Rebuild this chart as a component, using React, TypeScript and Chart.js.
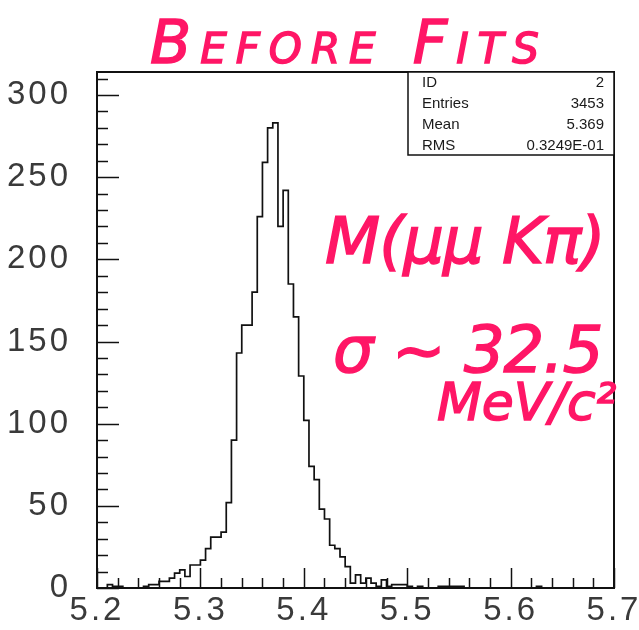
import { useEffect, useRef } from "react";
import { Chart, registerables } from "chart.js";

Chart.register(...registerables);

// M(μμKπ) mass histogram: 100 bins of 5 MeV between 5.2 and 5.7 GeV
const binLow = 5.2;
const binWidth = 0.005;
const counts = [
  0, 0, 2, 1, 1, 0, 0, 0, 0, 1,
  2, 2, 4, 4, 6, 9, 11, 7, 14, 14,
  17, 24, 31, 31, 34, 52, 90, 143, 160, 160,
  180, 226, 259, 280, 283, 220, 242, 185, 165, 129,
  102, 74, 66, 48, 42, 26, 24, 19, 13, 3,
  8, 3, 6, 3, 1, 5, 1, 2, 2, 2,
  1, 0, 1, 0, 0, 0, 1, 1, 1, 1,
  1, 0, 0, 0, 0, 0, 0, 0, 0, 0,
  0, 0, 0, 0, 0, 1, 0, 0, 0, 0,
  0, 0, 0, 0, 0, 0, 0, 0, 0, 0,
];

// Axis ranges and tick spacing
const xMin = 5.2;
const xMax = 5.7;
const xMajorStep = 0.1;
const xMinorStep = 0.02;
const yMin = 0;
const yMax = 314;
const yMajorStep = 50;
const yMinorStep = 10;

// Statistics box
const statsLabels = ["ID", "Entries", "Mean", "RMS"];
const statsValues = ["2", "3453", "5.369", "0.3249E-01"];

const ink = "#ff1666";

// widen the axis numbers a little, as on the original plotter output
const labelSpacing = {
  id: "labelSpacing",
  beforeDraw(chart: any) {
    chart.ctx.letterSpacing = "3px";
  },
};

const frameTicksStats = {
  id: "frameTicksStats",
  afterDatasetsDraw(chart: any) {
    const { ctx, chartArea: a, scales } = chart;
    const xs = scales.x;
    const ys = scales.y;
    ctx.save();
    ctx.letterSpacing = "0px";
    ctx.strokeStyle = "#111";
    ctx.lineWidth = 1.5;

    // ticks along the bottom axis, pointing into the plot
    const nx = Math.round((xMax - xMin) / xMinorStep);
    const perMajorX = Math.round(xMajorStep / xMinorStep);
    for (let k = 0; k <= nx; k++) {
      const px = Math.round(xs.getPixelForValue(xMin + k * xMinorStep)) + 0.5;
      const len = k % perMajorX === 0 ? 20 : 10;
      ctx.beginPath();
      ctx.moveTo(px, a.bottom);
      ctx.lineTo(px, a.bottom - len);
      ctx.stroke();
    }

    // ticks along the left axis, pointing into the plot
    const perMajorY = Math.round(yMajorStep / yMinorStep);
    for (let k = 0; yMin + k * yMinorStep <= yMax; k++) {
      const py = Math.round(ys.getPixelForValue(yMin + k * yMinorStep)) + 0.5;
      const len = k % perMajorY === 0 ? 22 : 11;
      ctx.beginPath();
      ctx.moveTo(a.left, py);
      ctx.lineTo(a.left + len, py);
      ctx.stroke();
    }

    // frame
    ctx.lineWidth = 2;
    ctx.strokeRect(a.left, a.top, a.right - a.left, a.bottom - a.top);

    // statistics box in the top-right corner
    const boxW = 206;
    const boxH = 83;
    const bx = a.right - boxW;
    const by = a.top;
    ctx.fillStyle = "#fff";
    ctx.fillRect(bx, by, boxW, boxH);
    ctx.lineWidth = 1.5;
    ctx.strokeRect(bx, by, boxW, boxH);
    ctx.fillStyle = "#1a1a1a";
    ctx.font = '15px "Liberation Sans", Arial, sans-serif';
    ctx.textBaseline = "middle";
    const rowH = 21;
    statsLabels.forEach((label, i) => {
      const ty = by + 10.5 + i * rowH;
      ctx.textAlign = "left";
      ctx.fillText(label, bx + 14, ty);
      ctx.textAlign = "right";
      ctx.fillText(statsValues[i], a.right - 10, ty);
    });
    ctx.restore();
  },
};

export default function App() {
  const canvasRef = useRef<HTMLCanvasElement | null>(null);

  useEffect(() => {
    const canvas = canvasRef.current;
    if (!canvas) return;

    const points = counts.map((c, i) => ({ x: binLow + i * binWidth, y: c }));
    points.push({ x: binLow + counts.length * binWidth, y: counts[counts.length - 1] });

    const tickFont = { family: '"Liberation Sans", Arial, sans-serif', size: 33 };

    const chart = new Chart(canvas, {
      type: "line",
      data: {
        datasets: [
          {
            data: points,
            stepped: true,
            borderColor: "#111",
            borderWidth: 1.7,
            pointRadius: 0,
            fill: false,
          },
        ],
      },
      options: {
        responsive: false,
        animation: false,
        events: [],
        layout: { padding: { top: 72, right: 25, left: 0, bottom: 0 } },
        plugins: {
          legend: { display: false },
          tooltip: { enabled: false },
          title: { display: false },
        },
        scales: {
          x: {
            type: "linear",
            min: xMin,
            max: xMax,
            grid: { display: false, drawTicks: false },
            border: { display: false },
            ticks: {
              stepSize: xMajorStep,
              callback: (v: any) => Number(v).toFixed(1),
              color: "#3a3a3a",
              font: tickFont,
              padding: 3,
              maxRotation: 0,
              autoSkip: false,
            },
            afterFit: (s: any) => {
              s.height = 42;
              s.paddingLeft = 0;
              s.paddingRight = 0;
            },
          },
          y: {
            type: "linear",
            min: yMin,
            max: yMax,
            grid: { display: false, drawTicks: false },
            border: { display: false },
            ticks: {
              stepSize: yMajorStep,
              includeBounds: false,
              color: "#3a3a3a",
              font: tickFont,
              padding: 26,
            },
            afterFit: (s: any) => {
              s.width = 97;
              s.paddingTop = 0;
              s.paddingBottom = 0;
            },
          },
        },
      },
      plugins: [labelSpacing, frameTicksStats],
    });

    return () => chart.destroy();
  }, []);

  const note: any = {
    position: "absolute",
    margin: 0,
    color: ink,
    fontFamily: '"DejaVu Sans", sans-serif',
    fontStyle: "oblique",
    lineHeight: 1,
    whiteSpace: "nowrap",
    WebkitTextStroke: `1.5px ${ink}`,
  };

  return (
    <div style={{ position: "absolute", left: 0, top: 0, width: 639, height: 630, background: "#fff", overflow: "hidden" }}>
      <canvas ref={canvasRef} width={639} height={630} style={{ display: "block", width: 639, height: 630 }} />
      <div style={{ ...note, left: 150, top: 12, fontSize: 60, fontVariant: "small-caps", letterSpacing: 9 }}>Before Fits</div>
      <div style={{ ...note, left: 325, top: 209, fontSize: 64, letterSpacing: -1 }}>M(μμ Kπ)</div>
      <div style={{ ...note, left: 333, top: 318, fontSize: 64, letterSpacing: -1 }}>σ ~ 32.5</div>
      <div style={{ ...note, left: 437, top: 376, fontSize: 52 }}>MeV/c²</div>
    </div>
  );
}
